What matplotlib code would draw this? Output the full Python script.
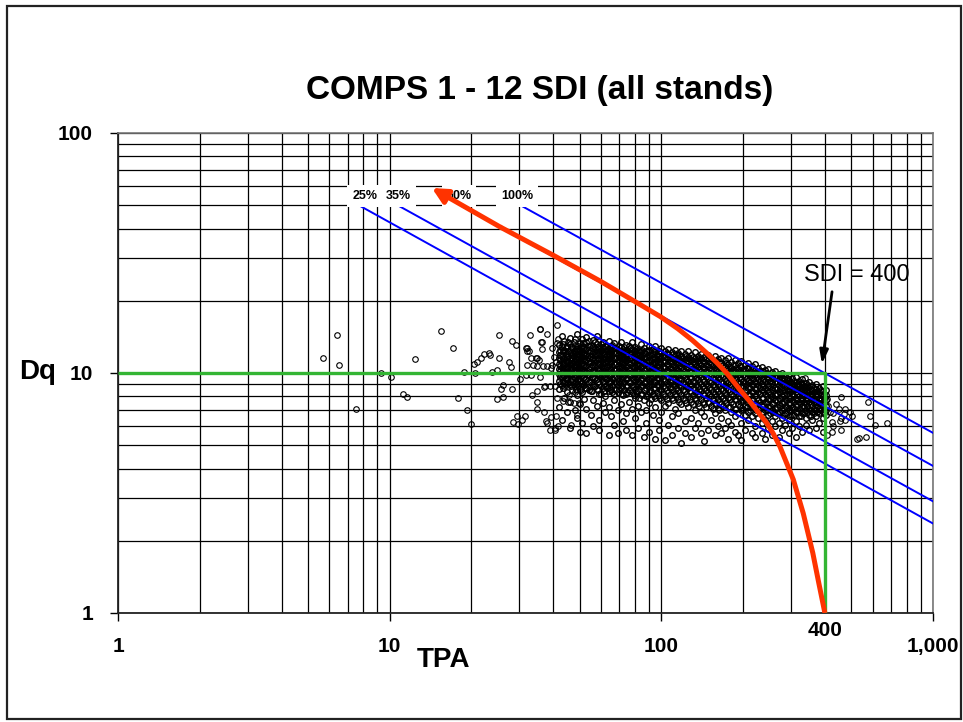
import matplotlib
matplotlib.use("Agg")
import matplotlib.pyplot as plt
from matplotlib.patches import Rectangle

plt.rcParams['font.family'] = ['Liberation Sans', 'DejaVu Sans']

# ---------------- data ----------------
title = "COMPS 1 - 12 SDI (all stands)"
x_ticks = [1, 10, 100, 1000]
x_tick_labels = ["1", "10", "100", "1,000"]
y_ticks = [1, 10, 100]
y_tick_labels = ["1", "10", "100"]

# SDI reference lines (start at Dq 50, end at TPA 1000)
sdi_labels = ["25%", "35%", "60%", "100%"]
sdi_start_tpa = [7.7, 10.7, 18.2, 30.3]
sdi_start_dq = [50, 50, 50, 50]
sdi_end_tpa = [1000, 1000, 1000, 1000]
sdi_end_dq = [2.36, 2.92, 4.1, 5.63]
sdi_label_tpa = [8.1, 10.8, 18.0, 29.4]
sdi_label_dq = 54.6

# green SDI=400 marker lines
green_tpa = [1, 400, 400]
green_dq = [10, 10, 1]

# red curve
red_tpa = [14.3, 25.5, 39.9, 59.4, 83.4, 99, 115, 130, 147, 160, 174, 195, 212, 244, 258, 273,
           306, 333, 361, 380, 400]
red_dq = [59.0, 40.6, 31.0, 24.2, 19.3, 17.2, 15.3, 13.7, 12.1, 11.05, 10.0, 8.5, 7.6, 6.2, 5.6,
          4.95, 3.6, 2.6, 1.78, 1.33, 1.0]

# scattered plots (left, sparse)
sparse_pts = [
    (5.7, 11.5), (6.4, 14.4), (6.5, 10.8), (7.5, 7.05), (9.3, 10.0), (10.1, 9.6), (11.2, 8.15),
    (11.6, 7.95), (12.4, 11.4), (15.5, 15.0), (17.1, 12.7), (17.9, 7.9), (18.7, 10.1), (19.3, 7.0),
    (20.0, 6.15), (20.4, 10.9), (21.0, 11.1), (21.6, 11.6), (22.2, 12.0), (23.3, 12.1), (23.5, 11.9),
    (20.6, 10.0), (23.9, 10.1), (24.9, 10.3), (25.2, 11.5), (25.2, 14.4), (24.9, 7.8), (25.6, 8.55),
    (26.1, 8.9), (26.2, 7.95), (27.5, 11.1), (28.0, 10.6), (28.2, 8.55), (28.3, 13.6), (29.1, 13.1),
    (28.5, 6.25), (29.5, 6.6), (29.6, 6.15), (30.6, 6.4), (31.5, 6.6), (30.1, 9.45), (31.7, 12.7),
    (32.1, 12.4), (31.7, 9.85), (32.9, 14.4), (33.0, 11.6), (33.0, 9.8), (33.5, 8.1), (34.8, 11.6),
    (34.9, 8.4), (34.9, 7.55), (34.9, 7.05), (35.8, 15.3), (36.3, 13.4), (36.3, 12.6), (35.6, 11.35),
    (36.9, 6.9), (37.1, 8.75), (37.9, 14.6), (37.5, 6.3), (38.9, 5.8), (39.1, 6.55), (41.3, 15.9),
    (40.6, 5.8), (41.8, 6.0), (46.6, 6.05), (35.9, 9.6), (37.4, 8.8), (38.9, 8.85), (40.7, 8.8),
    (41.3, 7.85), (38.1, 6.2), (40.5, 5.9), (41.0, 6.65), (43.3, 7.65), (43.7, 8.8), (44.9, 9.05),
    (45.9, 8.1), (45.5, 7.6), (47.6, 7.5), (48.9, 6.7), (49.6, 7.5), (48.2, 8.35), (44.7, 9.45),
    (32.0, 12.7), (32.5, 12.4), (34.7, 11.6), (32.0, 10.75), (33.6, 10.75), (34.9, 10.65),
    (36.6, 10.65), (37.9, 10.65), (39.1, 10.5), (39.5, 10.8), (40.8, 11.1), (40.1, 11.7),
    (39.6, 12.7), (41.3, 13.3), (41.8, 13.9), (35.8, 15.2), (36.1, 13.4),
]

# scattered plots (right of the core)
right_pts = [
    (338, 9.5), (458, 7.95), (575, 7.6), (449, 7.1), (475, 7.1), (495, 6.9), (585, 6.6),
    (612, 6.1), (676, 6.2), (458, 6.5), (475, 6.35), (424, 6.25), (455, 6.3), (458, 5.8),
    (424, 5.7), (408, 5.5), (524, 5.33), (567, 5.43), (535, 5.35), (429, 6.8), (408, 7.8),
    (416, 6.9), (440, 7.4), (505, 6.6), (430, 6.0), (412, 7.3), (470, 6.75),
]

# dense core: (TPA, [Dq values])
core_columns = [
    (42, [13.1, 12.2, 11.6, 10.9, 10.4, 9.9, 9.3, 8.6, 7.2]),
    (43, [14.2, 12.8, 11.9, 11.2, 10.6, 10.1, 9.6, 8.9, 6.4]),
    (44, [13.6, 12.5, 11.4, 10.8, 10.2, 9.7, 9.1, 7.9]),
    (45, [12.9, 12.1, 11.7, 11.0, 10.5, 10.0, 9.4, 8.3, 6.9]),
    (46, [14.0, 13.2, 12.4, 11.3, 10.7, 10.3, 9.8, 9.0, 7.6, 5.9]),
    (47, [12.7, 11.9, 11.5, 10.9, 10.4, 9.9, 9.2, 8.5]),
    (48, [13.8, 12.9, 12.2, 11.6, 11.1, 10.6, 10.1, 9.5, 8.8, 7.0]),
    (49, [14.5, 12.6, 12.0, 11.4, 10.8, 10.2, 9.7, 9.0, 8.1, 6.5]),
    (50, [13.3, 12.4, 11.8, 11.2, 10.5, 10.0, 9.3, 8.6, 7.4, 5.7]),
    (51, [13.9, 13.0, 12.3, 11.7, 11.0, 10.4, 9.8, 9.1, 8.3, 6.2]),
    (52, [12.8, 12.1, 11.5, 10.9, 10.3, 9.6, 8.9, 7.8]),
    (53, [14.1, 13.4, 12.6, 11.9, 11.3, 10.7, 10.1, 9.4, 8.7, 7.1, 5.6]),
    (55, [13.1, 12.4, 11.8, 11.1, 10.6, 9.9, 9.2, 8.4, 6.7]),
    (56, [13.7, 12.9, 12.2, 11.5, 10.8, 10.2, 9.6, 8.9, 7.7, 6.0]),
    (58, [14.3, 13.2, 12.5, 11.9, 11.3, 10.7, 10.0, 9.4, 8.6, 7.3]),
    (59, [12.7, 12.0, 11.4, 10.9, 10.3, 9.7, 9.0, 8.2, 6.4, 5.8]),
    (61, [13.5, 12.8, 12.2, 11.6, 11.0, 10.5, 9.9, 9.3, 8.7, 7.5]),
    (62, [13.0, 12.3, 11.7, 11.2, 10.6, 10.1, 9.5, 8.8, 8.0, 6.9]),
    (64, [13.6, 12.6, 12.0, 11.4, 10.8, 10.2, 9.7, 9.1, 8.4, 7.2, 5.5]),
    (65, [12.9, 12.4, 11.8, 11.1, 10.4, 9.8, 9.2, 8.5, 6.6]),
    (67, [13.3, 12.7, 12.1, 11.5, 10.9, 10.3, 9.6, 9.0, 8.2, 7.7, 6.1]),
    (69, [12.5, 11.9, 11.3, 10.7, 10.1, 9.5, 8.9, 8.3, 7.0, 5.6]),
    (71, [13.4, 12.8, 12.2, 11.6, 11.0, 10.5, 9.9, 9.3, 8.7, 7.4]),
    (72, [12.6, 12.0, 11.4, 10.8, 10.2, 9.6, 9.1, 8.1, 6.3]),
    (74, [13.1, 12.4, 11.8, 11.2, 10.6, 10.0, 9.4, 8.8, 8.2, 6.8, 5.8]),
    (76, [12.9, 12.2, 11.6, 11.0, 10.4, 9.8, 9.2, 8.5, 7.6]),
    (78, [13.5, 12.6, 12.0, 11.3, 10.7, 10.1, 9.5, 8.9, 8.3, 7.1, 5.5]),
    (80, [12.8, 12.3, 11.7, 11.1, 10.5, 9.9, 9.3, 8.6, 7.9, 6.5]),
    (82, [12.5, 11.9, 11.4, 10.8, 10.2, 9.6, 9.0, 8.4, 7.3, 5.9]),
    (84, [13.2, 12.4, 11.8, 11.2, 10.6, 10.0, 9.4, 8.8, 8.1, 6.9]),
    (86, [12.7, 12.1, 11.5, 10.9, 10.3, 9.7, 9.1, 8.5, 7.7, 5.4]),
    (88, [12.3, 11.7, 11.1, 10.5, 9.9, 9.3, 8.7, 8.0, 7.0, 6.2]),
    (90, [13.0, 12.5, 11.9, 11.3, 10.7, 10.1, 9.5, 8.9, 8.3, 7.5, 5.7]),
    (93, [12.6, 12.0, 11.4, 10.8, 10.2, 9.6, 9.0, 8.2, 6.7]),
    (95, [12.9, 12.2, 11.6, 11.0, 10.4, 9.8, 9.2, 8.6, 7.9, 7.2, 5.3]),
    (98, [12.4, 11.8, 11.2, 10.6, 10.0, 9.4, 8.8, 8.1, 6.4, 5.8]),
    (100, [12.7, 12.1, 11.5, 10.9, 10.3, 9.7, 9.1, 8.5, 7.7, 6.9]),
    (103, [12.3, 11.7, 11.1, 10.5, 9.9, 9.3, 8.7, 8.0, 7.3, 5.25]),
    (106, [12.6, 12.0, 11.4, 10.8, 10.2, 9.6, 9.0, 8.3, 7.5, 6.1]),
    (109, [12.2, 11.6, 11.0, 10.4, 9.8, 9.2, 8.6, 7.9, 6.6, 5.5]),
    (112, [12.5, 11.9, 11.3, 10.7, 10.1, 9.5, 8.9, 8.2, 7.1]),
    (115, [12.1, 11.5, 10.9, 10.3, 9.7, 9.1, 8.5, 7.8, 6.8, 5.9]),
    (118, [12.4, 11.8, 11.2, 10.6, 10.0, 9.4, 8.8, 8.1, 7.4, 5.12]),
    (122, [12.0, 11.4, 10.8, 10.2, 9.6, 9.0, 8.4, 7.7, 6.3, 5.6]),
    (125, [12.3, 11.7, 11.1, 10.5, 9.9, 9.3, 8.7, 8.0, 7.2]),
    (129, [11.9, 11.3, 10.7, 10.1, 9.5, 8.9, 8.3, 7.6, 6.5, 5.4]),
    (133, [12.2, 11.6, 11.0, 10.4, 9.8, 9.2, 8.6, 7.9, 7.0, 5.9]),
    (136, [11.8, 11.2, 10.6, 10.0, 9.4, 8.8, 8.2, 7.5, 6.2]),
    (140, [12.0, 11.4, 10.8, 10.2, 9.6, 9.0, 8.4, 7.8, 6.9, 5.6]),
    (144, [11.7, 11.1, 10.5, 9.9, 9.3, 8.7, 8.1, 7.4, 6.6, 5.2]),
    (148, [11.9, 11.3, 10.7, 10.1, 9.5, 8.9, 8.3, 7.6, 5.8]),
    (152, [11.5, 11.0, 10.4, 9.8, 9.2, 8.6, 8.0, 7.3, 6.4]),
    (157, [11.8, 11.2, 10.6, 10.0, 9.4, 8.8, 8.2, 7.5, 6.8, 5.5]),
    (161, [11.4, 10.8, 10.2, 9.6, 9.0, 8.4, 7.8, 7.1, 6.0]),
    (166, [11.6, 11.0, 10.4, 9.8, 9.2, 8.6, 8.0, 7.4, 6.5, 5.6]),
    (171, [11.3, 10.7, 10.1, 9.5, 8.9, 8.3, 7.7, 7.0, 5.9]),
    (176, [11.5, 10.9, 10.3, 9.7, 9.1, 8.5, 7.9, 7.2, 6.3, 5.3]),
    (181, [11.1, 10.5, 10.0, 9.4, 8.8, 8.2, 7.6, 6.9, 6.1]),
    (186, [11.3, 10.8, 10.2, 9.6, 9.0, 8.4, 7.8, 7.1, 6.6, 5.7]),
    (191, [11.0, 10.4, 9.8, 9.2, 8.6, 8.0, 7.4, 6.8, 5.5]),
    (197, [11.2, 10.6, 10.0, 9.4, 8.8, 8.2, 7.6, 7.0, 6.2, 5.25]),
    (203, [10.8, 10.3, 9.7, 9.1, 8.5, 7.9, 7.3, 6.7, 5.8]),
    (209, [11.0, 10.5, 9.9, 9.3, 8.7, 8.1, 7.5, 6.9, 6.4]),
    (215, [10.7, 10.1, 9.6, 9.0, 8.4, 7.8, 7.2, 6.6, 5.6]),
    (221, [10.9, 10.3, 9.8, 9.2, 8.6, 8.0, 7.4, 6.8, 6.0, 5.4]),
    (227, [10.5, 10.0, 9.4, 8.9, 8.3, 7.7, 7.1, 6.5]),
    (234, [10.6, 10.2, 9.6, 9.0, 8.5, 7.9, 7.3, 6.9, 6.2, 5.6]),
    (241, [10.3, 9.8, 9.3, 8.7, 8.2, 7.6, 7.0, 6.4, 5.3]),
    (248, [10.4, 9.9, 9.4, 8.8, 8.3, 7.8, 7.2, 6.7, 5.9]),
    (255, [10.1, 9.6, 9.1, 8.6, 8.0, 7.5, 7.0, 6.3, 5.5]),
    (262, [10.2, 9.7, 9.2, 8.7, 8.1, 7.7, 7.1, 6.6, 6.0]),
    (270, [9.9, 9.4, 8.9, 8.4, 7.9, 7.4, 6.9, 6.2, 5.4]),
    (278, [10.0, 9.5, 9.0, 8.5, 8.0, 7.5, 7.0, 6.5, 5.8]),
    (286, [9.7, 9.2, 8.8, 8.3, 7.8, 7.3, 6.8, 6.1]),
    (294, [9.8, 9.3, 8.9, 8.4, 7.9, 7.4, 7.0, 6.4, 5.6]),
    (303, [9.5, 9.1, 8.6, 8.2, 7.7, 7.2, 6.7, 5.9]),
    (312, [9.6, 9.2, 8.7, 8.3, 7.8, 7.3, 6.9, 6.3, 5.4]),
    (321, [9.3, 8.9, 8.5, 8.0, 7.6, 7.1, 6.6, 6.0]),
    (330, [9.4, 9.0, 8.6, 8.1, 7.7, 7.2, 6.8, 5.7]),
    (340, [9.1, 8.7, 8.3, 7.9, 7.5, 7.0, 6.5, 6.1]),
    (350, [9.2, 8.8, 8.4, 8.0, 7.6, 7.1, 6.7, 5.8]),
    (360, [8.9, 8.5, 8.1, 7.7, 7.3, 6.9, 6.4]),
    (370, [9.0, 8.6, 8.2, 7.8, 7.4, 7.0, 6.6, 5.9]),
    (381, [8.7, 8.3, 7.9, 7.5, 7.1, 6.8, 6.2]),
    (392, [8.8, 8.4, 8.0, 7.6, 7.2, 6.9, 6.5, 5.7]),
    (403, [8.5, 8.1, 7.7, 7.3, 7.0, 6.7]),
]

# dense core, in-between columns
core_columns_b = [
    (42.5, [12.5, 11.9, 11.3, 10.7, 10.2, 9.6, 9.0]),
    (43.5, [13.2, 12.3, 11.6, 11.0, 10.4, 9.8, 9.3, 8.7]),
    (44.5, [12.7, 12.0, 11.3, 10.6, 10.0, 9.5, 8.9]),
    (45.5, [13.4, 12.4, 11.8, 11.2, 10.8, 10.2, 9.7, 9.1]),
    (46.5, [12.8, 12.1, 11.5, 11.0, 10.5, 9.9, 9.4, 8.8]),
    (47.5, [13.5, 12.4, 11.8, 11.2, 10.7, 10.2, 9.6, 9.0]),
    (48.5, [12.6, 11.9, 11.4, 10.8, 10.3, 9.8, 9.2, 8.6]),
    (49.5, [13.0, 12.3, 11.7, 11.1, 10.5, 10.0, 9.4, 8.8]),
    (50.5, [12.8, 12.1, 11.5, 10.9, 10.3, 9.7, 9.1, 8.5]),
    (51.5, [13.3, 12.6, 12.0, 11.4, 10.7, 10.1, 9.5, 8.9]),
    (52.5, [12.5, 11.8, 11.2, 10.6, 10.0, 9.4, 8.7]),
    (54, [13.6, 12.9, 12.2, 11.6, 11.0, 10.4, 9.8, 9.2, 8.5]),
    (55.5, [12.7, 12.0, 11.4, 10.8, 10.2, 9.6, 9.0, 8.4]),
    (57, [13.4, 12.6, 11.9, 11.3, 10.7, 10.1, 9.5, 8.8]),
    (58.5, [12.8, 12.2, 11.6, 11.0, 10.4, 9.8, 9.2, 8.5]),
    (60, [13.2, 12.5, 11.9, 11.3, 10.7, 10.1, 9.5, 8.8, 8.2]),
    (61.5, [12.6, 12.0, 11.4, 10.8, 10.2, 9.6, 9.0, 8.4]),
    (63, [13.0, 12.4, 11.8, 11.2, 10.6, 10.0, 9.4, 8.7]),
    (64.5, [12.8, 12.2, 11.6, 11.0, 10.4, 9.8, 9.2, 8.6]),
    (66, [13.1, 12.5, 11.9, 11.3, 10.7, 10.1, 9.5, 8.9, 8.3]),
    (68, [12.7, 12.1, 11.5, 10.9, 10.3, 9.7, 9.1, 8.5]),
    (70, [12.9, 12.3, 11.7, 11.1, 10.5, 9.9, 9.3, 8.6]),
    (71.5, [12.4, 11.8, 11.2, 10.6, 10.0, 9.4, 8.8, 8.2]),
    (73, [12.8, 12.2, 11.6, 11.0, 10.4, 9.8, 9.2, 8.5]),
    (75, [12.5, 11.9, 11.3, 10.7, 10.1, 9.5, 8.9, 8.3]),
    (77, [12.7, 12.1, 11.5, 10.9, 10.3, 9.7, 9.1, 8.4]),
    (79, [12.4, 11.8, 11.2, 10.6, 10.0, 9.4, 8.8, 8.1]),
    (81, [12.6, 12.0, 11.4, 10.8, 10.2, 9.6, 9.0, 8.4]),
    (83, [12.2, 11.6, 11.0, 10.4, 9.8, 9.2, 8.6, 7.9]),
    (85, [12.5, 11.9, 11.3, 10.7, 10.1, 9.5, 8.9, 8.2]),
    (87, [12.1, 11.5, 10.9, 10.3, 9.7, 9.1, 8.5]),
    (89, [12.4, 11.8, 11.2, 10.6, 10.0, 9.4, 8.8, 8.1]),
    (91.5, [12.0, 11.4, 10.8, 10.2, 9.6, 9.0, 8.4, 7.8]),
    (94, [12.3, 11.7, 11.1, 10.5, 9.9, 9.3, 8.7, 8.0]),
    (96.5, [11.9, 11.3, 10.7, 10.1, 9.5, 8.9, 8.3]),
    (99, [12.2, 11.6, 11.0, 10.4, 9.8, 9.2, 8.6, 7.9]),
    (101.5, [11.8, 11.2, 10.6, 10.0, 9.4, 8.8, 8.2]),
    (104.5, [12.1, 11.5, 10.9, 10.3, 9.7, 9.1, 8.5, 7.8]),
    (107.5, [11.7, 11.1, 10.5, 9.9, 9.3, 8.7, 8.1]),
    (110.5, [12.0, 11.4, 10.8, 10.2, 9.6, 9.0, 8.4, 7.7]),
    (113.5, [11.6, 11.0, 10.4, 9.8, 9.2, 8.6, 8.0]),
    (116.5, [11.9, 11.3, 10.7, 10.1, 9.5, 8.9, 8.3, 7.6]),
    (120, [11.5, 10.9, 10.3, 9.7, 9.1, 8.5, 7.9]),
    (123.5, [11.8, 11.2, 10.6, 10.0, 9.4, 8.8, 8.2, 7.5]),
    (127, [11.4, 10.8, 10.2, 9.6, 9.0, 8.4, 7.8]),
    (131, [11.7, 11.1, 10.5, 9.9, 9.3, 8.7, 8.1, 7.4]),
    (134.5, [11.3, 10.7, 10.1, 9.5, 8.9, 8.3, 7.7]),
    (138, [11.6, 11.0, 10.4, 9.8, 9.2, 8.6, 8.0, 7.3]),
    (142, [11.2, 10.6, 10.0, 9.4, 8.8, 8.2, 7.6]),
    (146, [11.4, 10.8, 10.2, 9.6, 9.0, 8.5, 7.9, 7.2]),
    (150, [11.1, 10.5, 9.9, 9.3, 8.7, 8.1, 7.5]),
    (154.5, [11.3, 10.7, 10.1, 9.5, 8.9, 8.3, 7.7, 7.1]),
    (159, [10.9, 10.4, 9.8, 9.2, 8.6, 8.0, 7.4]),
    (163.5, [11.1, 10.6, 10.0, 9.4, 8.8, 8.2, 7.6, 7.0]),
    (168.5, [10.8, 10.2, 9.7, 9.1, 8.5, 7.9, 7.3]),
    (173.5, [11.0, 10.4, 9.9, 9.3, 8.7, 8.1, 7.5]),
    (178.5, [10.6, 10.1, 9.5, 9.0, 8.4, 7.8, 7.2]),
    (183.5, [10.8, 10.3, 9.7, 9.2, 8.6, 8.0, 7.4]),
    (188.5, [10.5, 9.9, 9.4, 8.9, 8.3, 7.7, 7.1]),
    (194, [10.7, 10.1, 9.6, 9.1, 8.5, 7.9, 7.3]),
    (200, [10.4, 9.8, 9.3, 8.8, 8.2, 7.7, 7.1]),
    (206, [10.5, 10.0, 9.5, 9.0, 8.4, 7.8, 7.2]),
    (212, [10.2, 9.7, 9.2, 8.7, 8.1, 7.6, 7.0]),
    (218, [10.4, 9.9, 9.4, 8.9, 8.3, 7.7, 7.2]),
    (224, [10.1, 9.6, 9.1, 8.6, 8.1, 7.5, 7.0]),
    (230.5, [10.2, 9.7, 9.2, 8.7, 8.2, 7.6, 7.1]),
    (237.5, [9.9, 9.4, 8.9, 8.4, 7.9, 7.4, 6.9]),
    (244.5, [10.0, 9.5, 9.0, 8.5, 8.0, 7.5, 7.0]),
    (251.5, [9.8, 9.3, 8.8, 8.3, 7.8, 7.3, 6.8]),
    (258.5, [9.9, 9.4, 8.9, 8.4, 7.9, 7.4, 6.9]),
    (266, [9.6, 9.1, 8.6, 8.2, 7.7, 7.2, 6.8]),
    (274, [9.7, 9.2, 8.7, 8.3, 7.8, 7.3, 6.9]),
    (282, [9.4, 9.0, 8.5, 8.1, 7.6, 7.1, 6.7]),
    (290, [9.5, 9.1, 8.6, 8.2, 7.7, 7.2, 6.8]),
    (298.5, [9.2, 8.8, 8.4, 7.9, 7.5, 7.0, 6.6]),
    (307.5, [9.3, 8.9, 8.5, 8.0, 7.6, 7.1, 6.7]),
    (316.5, [9.0, 8.6, 8.2, 7.8, 7.4, 6.9]),
    (325.5, [9.1, 8.7, 8.3, 7.9, 7.5, 7.0, 6.6]),
    (335, [8.8, 8.4, 8.0, 7.6, 7.2, 6.8]),
    (345, [8.9, 8.5, 8.1, 7.7, 7.3, 6.9]),
    (355, [8.6, 8.2, 7.8, 7.4, 7.0, 6.6]),
    (365, [8.7, 8.3, 7.9, 7.5, 7.1, 6.8]),
    (375.5, [8.4, 8.0, 7.6, 7.3, 6.9]),
    (386.5, [8.5, 8.1, 7.7, 7.4, 7.0]),
    (397.5, [8.2, 7.8, 7.5, 7.1, 6.8]),
]

outer_tpa = [p[0] for p in sparse_pts] + [p[0] for p in right_pts]
outer_dq = [p[1] for p in sparse_pts] + [p[1] for p in right_pts]
core_tpa = []
core_dq = []
for t, dqs in core_columns + core_columns_b:
    for d in dqs:
        core_tpa.append(t)
        core_dq.append(d)

# ---------------- figure ----------------
W, H = 963, 722
fig = plt.figure(figsize=(W / 100, H / 100), dpi=100)
fig.patch.set_facecolor('white')

# outer border
fig.add_artist(Rectangle((7 / W, 1 - 719 / H), (961 - 7) / W, (719 - 6) / H,
                         transform=fig.transFigure, fill=False,
                         edgecolor='#222222', lw=1.6))

ax = fig.add_axes([118 / W, 1 - 613 / H, 815 / W, 480 / H])
ax.set_xscale('log')
ax.set_yscale('log')
ax.set_xlim(1, 1000)
ax.set_ylim(1, 100)

minor_x = [m * 10 ** e for e in range(0, 3) for m in range(2, 10)]
minor_y = [m * 10 ** e for e in range(0, 2) for m in range(2, 10)]
ax.set_xticks(x_ticks)
ax.set_xticklabels(x_tick_labels, fontsize=15, fontweight='bold')
ax.set_yticks(y_ticks)
ax.set_yticklabels(y_tick_labels, fontsize=15, fontweight='bold')
ax.set_xticks(minor_x, minor=True)
ax.set_yticks(minor_y, minor=True)
ax.tick_params(which='minor', length=0)
ax.tick_params(axis='x', which='major', length=6, width=1, direction='out', pad=11)
ax.tick_params(axis='y', which='major', length=6, width=1, direction='out', pad=12)
ax.grid(which='both', color='black', lw=0.9, zorder=0)
ax.set_axisbelow(True)
for s in ['left', 'bottom']:
    ax.spines[s].set_color('#222222')
    ax.spines[s].set_linewidth(1.3)
for s in ['top', 'right']:
    ax.spines[s].set_color('#777777')
    ax.spines[s].set_linewidth(1.2)

# scatter
ax.plot(outer_tpa, outer_dq, linestyle='none', marker='o', markersize=4.0,
        markerfacecolor='none', markeredgecolor='black', markeredgewidth=0.8, zorder=2)
ax.plot(core_tpa, core_dq, linestyle='none', marker='o', markersize=4.0,
        markerfacecolor='none', markeredgecolor='black', markeredgewidth=1.0, zorder=2)

# SDI lines
for i in range(len(sdi_labels)):
    ax.plot([sdi_start_tpa[i], sdi_end_tpa[i]], [sdi_start_dq[i], sdi_end_dq[i]],
            color='#0000ff', lw=1.4, zorder=3)
    ax.text(sdi_label_tpa[i], sdi_label_dq, sdi_labels[i], fontsize=9, fontweight='bold',
            ha='center', va='center', zorder=6,
            bbox=dict(facecolor='white', edgecolor='none', pad=3.5))

# green lines
ax.plot(green_tpa, green_dq, color='#33b533', lw=2.4, zorder=4, solid_capstyle='butt')

# red curve with arrow head
ax.plot(red_tpa[1:], red_dq[1:], color='#ff3300', lw=3.6, zorder=5,
        solid_capstyle='butt', solid_joinstyle='round')
ax.annotate('', xy=(red_tpa[0], red_dq[0]), xytext=(red_tpa[1], red_dq[1]),
            arrowprops=dict(arrowstyle='-|>,head_length=0.9,head_width=0.45',
                            color='#ff3300', lw=3.6, shrinkA=0, shrinkB=0),
            zorder=7)

# SDI = 400 annotation
ax.annotate('', xy=(390, 10.9), xytext=(425, 21.8),
            arrowprops=dict(arrowstyle='-|>,head_length=0.8,head_width=0.25',
                            color='black', lw=2.0, shrinkA=0, shrinkB=0), zorder=8)
ax.text(525, 25.6, 'SDI = 400', fontsize=17, ha='center', va='center', zorder=8)

# extra 400 label
ax.annotate('400', xy=(400, 0), xycoords=('data', 'axes fraction'),
            xytext=(0, -17), textcoords='offset pixels', ha='center', va='center',
            fontsize=15, fontweight='bold', annotation_clip=False)

# titles / axis labels
fig.text(540 / W, 1 - 90 / H, title, fontsize=24, fontweight='bold', ha='center', va='center')
fig.text(443 / W, 1 - 660 / H, 'TPA', fontsize=20, fontweight='bold', ha='center', va='center')
fig.text(38 / W, 1 - 372 / H, 'Dq', fontsize=20, fontweight='bold', ha='center', va='center')

fig.savefig('out.png', dpi=100, facecolor='white')
